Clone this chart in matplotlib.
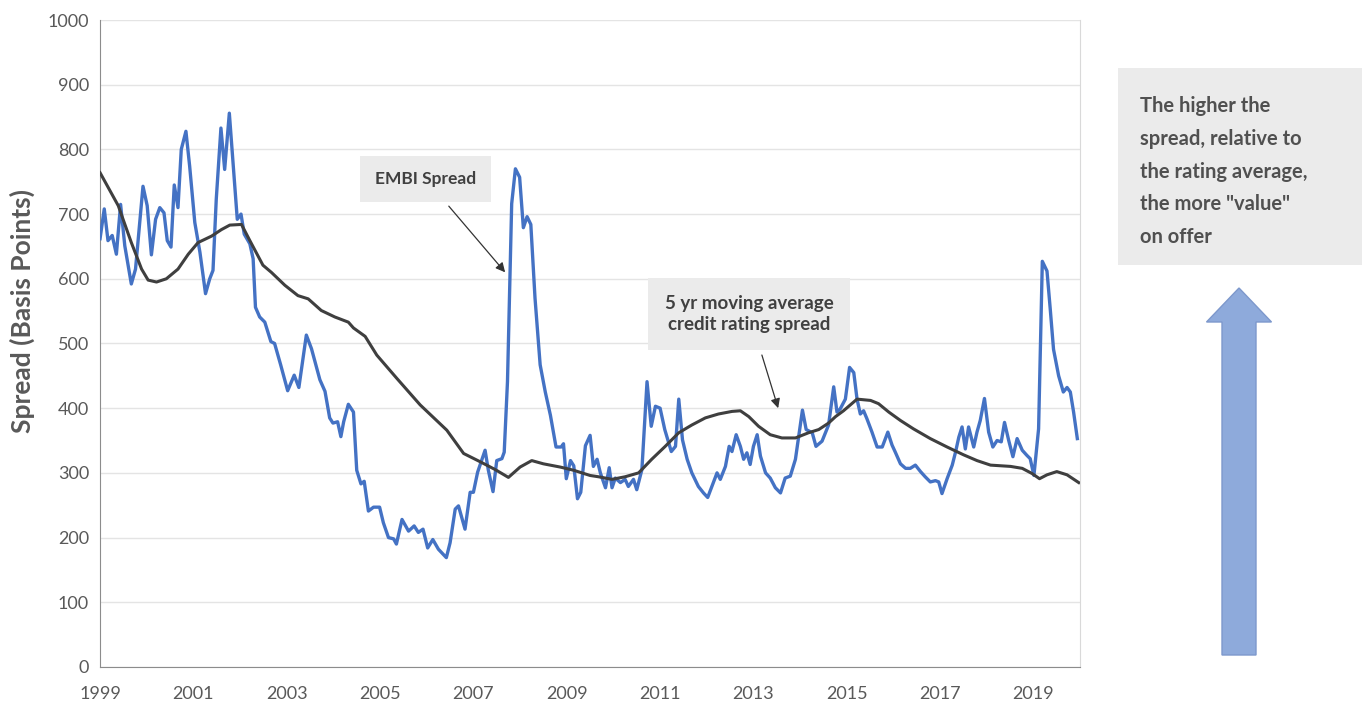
import matplotlib.pyplot as plt
from matplotlib.patches import Rectangle, FancyArrow

# EMBI spread (decimal year, basis points)
embi_t = [1999.00, 1999.09, 1999.17, 1999.26, 1999.35, 1999.44, 1999.53, 1999.67, 1999.76, 1999.92,
          2000.01, 2000.10, 2000.19, 2000.28, 2000.37, 2000.44, 2000.52, 2000.59, 2000.67, 2000.74,
          2000.84, 2000.92, 2001.03, 2001.14, 2001.26, 2001.35, 2001.42, 2001.49, 2001.59, 2001.67,
          2001.77, 2001.85, 2001.94, 2002.02, 2002.09, 2002.21, 2002.28, 2002.33, 2002.42, 2002.53,
          2002.66, 2002.74, 2002.87, 2003.02, 2003.16, 2003.26, 2003.42, 2003.53, 2003.71, 2003.82,
          2003.92, 2003.99, 2004.09, 2004.16, 2004.22, 2004.32, 2004.43, 2004.50, 2004.59, 2004.66,
          2004.75, 2004.86, 2004.99, 2005.07, 2005.18, 2005.29, 2005.35, 2005.47, 2005.61, 2005.73,
          2005.82, 2005.92, 2006.02, 2006.13, 2006.25, 2006.42, 2006.50, 2006.61, 2006.68, 2006.82,
          2006.93, 2007.00, 2007.09, 2007.25, 2007.32, 2007.42, 2007.50, 2007.61, 2007.66, 2007.73,
          2007.82, 2007.90, 2007.99, 2008.07, 2008.15, 2008.23, 2008.32, 2008.43, 2008.54, 2008.65,
          2008.77, 2008.88, 2008.93, 2008.99, 2009.08, 2009.15, 2009.23, 2009.30, 2009.40, 2009.50,
          2009.57, 2009.65, 2009.72, 2009.83, 2009.91, 2009.97, 2010.04, 2010.15, 2010.25, 2010.32,
          2010.43, 2010.50, 2010.61, 2010.72, 2010.81, 2010.90, 2011.00, 2011.10, 2011.24, 2011.33,
          2011.40, 2011.48, 2011.58, 2011.68, 2011.82, 2011.93, 2012.02, 2012.11, 2012.22, 2012.29,
          2012.40, 2012.48, 2012.54, 2012.63, 2012.72, 2012.79, 2012.86, 2012.93, 2013.00, 2013.08,
          2013.15, 2013.26, 2013.36, 2013.47, 2013.58, 2013.68, 2013.79, 2013.90, 2014.05, 2014.13,
          2014.26, 2014.34, 2014.47, 2014.61, 2014.72, 2014.79, 2014.86, 2014.97, 2015.06, 2015.15,
          2015.22, 2015.29, 2015.36, 2015.43, 2015.54, 2015.65, 2015.76, 2015.88, 2015.97, 2016.04,
          2016.15, 2016.26, 2016.36, 2016.47, 2016.58, 2016.68, 2016.79, 2016.90, 2016.97, 2017.04,
          2017.15, 2017.26, 2017.33, 2017.40, 2017.47, 2017.54, 2017.61, 2017.72, 2017.79, 2017.86,
          2017.95, 2018.04, 2018.13, 2018.22, 2018.31, 2018.38, 2018.47, 2018.56, 2018.65, 2018.76,
          2018.86, 2018.93, 2019.01, 2019.11, 2019.19, 2019.29, 2019.36, 2019.43, 2019.54, 2019.64,
          2019.72, 2019.79, 2019.86, 2019.94]
embi_v = [662, 708, 659, 667, 638, 715, 651, 592, 615, 743,
          713, 637, 692, 710, 702, 659, 649, 745, 710, 800,
          828, 774, 687, 641, 577, 600, 613, 723, 833, 769,
          856, 779, 692, 700, 669, 654, 631, 556, 541, 533,
          503, 500, 467, 427, 451, 432, 513, 492, 444, 426,
          385, 377, 379, 356, 379, 406, 394, 304, 283, 287,
          241, 247, 247, 223, 200, 198, 190, 228, 210, 218,
          208, 213, 184, 197, 182, 169, 192, 244, 249, 213,
          270, 270, 301, 335, 304, 271, 319, 322, 332, 441,
          716, 770, 757, 679, 696, 684, 570, 467, 425, 389,
          340, 340, 345, 291, 319, 311, 260, 270, 342, 358,
          310, 321, 300, 277, 308, 277, 292, 285, 290, 279,
          290, 274, 305, 441, 372, 403, 400, 367, 333, 341,
          414, 351, 321, 300, 279, 269, 262, 279, 300, 290,
          310, 341, 333, 359, 341, 321, 331, 313, 341, 359,
          326, 300, 292, 277, 269, 292, 295, 321, 397, 367,
          362, 341, 349, 374, 433, 394, 399, 414, 463, 455,
          414, 391, 396, 384, 363, 340, 340, 363, 343, 332,
          314, 307, 307, 312, 302, 294, 286, 288, 286, 268,
          291, 312, 332, 355, 371, 337, 371, 340, 363, 381,
          415, 363, 340, 350, 348, 378, 350, 325, 353, 335,
          327, 322, 296, 368, 627, 612, 553, 491, 450, 425,
          432, 425, 394, 353]

# 5 yr moving average credit rating spread
avg_t = [1999.00, 1999.39, 1999.67, 1999.89, 2000.03, 2000.21, 2000.42, 2000.67, 2000.89, 2001.10,
         2001.39, 2001.60, 2001.78, 2002.03, 2002.21, 2002.49, 2002.67, 2002.96, 2003.24, 2003.46,
         2003.74, 2004.03, 2004.32, 2004.43, 2004.68, 2004.93, 2005.36, 2005.86, 2006.43, 2006.79,
         2007.15, 2007.47, 2007.75, 2008.00, 2008.25, 2008.50, 2008.86, 2009.15, 2009.50, 2009.68,
         2009.97, 2010.25, 2010.54, 2010.82, 2011.11, 2011.40, 2011.68, 2011.97, 2012.25, 2012.54,
         2012.72, 2012.90, 2013.11, 2013.36, 2013.61, 2013.90, 2014.18, 2014.40, 2014.61, 2014.76,
         2014.93, 2015.22, 2015.51, 2015.68, 2015.90, 2016.15, 2016.43, 2016.79, 2017.15, 2017.50,
         2017.79, 2018.08, 2018.51, 2018.76, 2018.97, 2019.13, 2019.29, 2019.50, 2019.72, 2019.97]
avg_v = [764, 713, 656, 615, 598, 595, 600, 615, 638, 656,
         666, 676, 683, 684, 659, 621, 610, 590, 574, 569,
         551, 541, 533, 524, 511, 482, 446, 405, 366, 330,
         317, 305, 293, 309, 319, 314, 309, 304, 296, 294,
         290, 294, 300, 321, 341, 362, 374, 385, 391, 395,
         396, 387, 372, 359, 354, 354, 362, 367, 377, 387,
         396, 414, 412, 407, 394, 381, 368, 353, 340, 328,
         319, 312, 310, 307, 299, 291, 297, 302, 297, 285]

year_ticks = [1999, 2001, 2003, 2005, 2007, 2009, 2011, 2013, 2015, 2017, 2019]

txt = '#404040'
plt.rcParams['font.family'] = ['Lato', 'DejaVu Sans']

fig = plt.figure(figsize=(13.65, 7.02), dpi=100)
ax = fig.add_axes([0.0733, 0.0499, 0.7180, 0.9216])

ax.plot(embi_t, embi_v, color='#4472c4', lw=2.4, zorder=3)
ax.plot(avg_t, avg_v, color='#3f3f3f', lw=2.2, zorder=4)

ax.set_xlim(1999, 2020)
ax.set_ylim(0, 1000)
ax.set_yticks(range(0, 1001, 100))
ax.set_xticks(year_ticks)
ax.grid(axis='y', color='#e4e4e4', lw=1)
ax.set_axisbelow(True)
ax.tick_params(length=0, labelsize=13, colors='#595959')
ax.tick_params(axis='y', pad=8)
ax.tick_params(axis='x', pad=14)
for s in ['left', 'bottom']:
    ax.spines[s].set_color('#8c8c8c')
ax.spines['right'].set_color('#d9d9d9')
ax.spines['top'].set_visible(False)

ax.set_ylabel('Spread (Basis Points)', fontsize=19, fontweight='bold', color='#595959')
ax.yaxis.set_label_coords(-0.066, 0.55)

arrow = dict(arrowstyle='-|>', color='#333333', lw=0.9, mutation_scale=14, shrinkA=4, shrinkB=0)
ax.annotate('EMBI Spread', xy=(2007.68, 610), xytext=(2005.98, 754),
            ha='center', va='center', fontsize=12.5, fontweight='bold', color=txt,
            bbox=dict(boxstyle='square,pad=0.85', fc='#ebebeb', ec='none'), arrowprops=arrow, zorder=5)
ax.annotate('5 yr moving average\ncredit rating spread', xy=(2013.53, 400), xytext=(2012.91, 546),
            ha='center', va='center', fontsize=13.5, fontweight='bold', color=txt, linespacing=1.3,
            bbox=dict(boxstyle='square,pad=0.9', fc='#ebebeb', ec='none'), arrowprops=arrow, zorder=5)

# right-hand note and arrow, laid out in pixel units
ov = fig.add_axes([0, 0, 1, 1], zorder=-1)
ov.set_xlim(0, 1365)
ov.set_ylim(702, 0)
ov.axis('off')
ov.add_patch(Rectangle((1118, 68), 244, 197, fc='#ebebeb', ec='none'))
ov.text(1140, 96, 'The higher the\nspread, relative to\nthe rating average,\nthe more "value"\non offer',
        ha='left', va='top', fontsize=14.5, fontweight='bold', color='#505050', linespacing=1.8)
ov.add_patch(FancyArrow(1239, 655, 0, -367, width=34, head_width=65, head_length=34,
                        length_includes_head=True, fc='#8eaadb', ec='#7d98cc', lw=1))

fig.savefig('out.png', dpi=100)
